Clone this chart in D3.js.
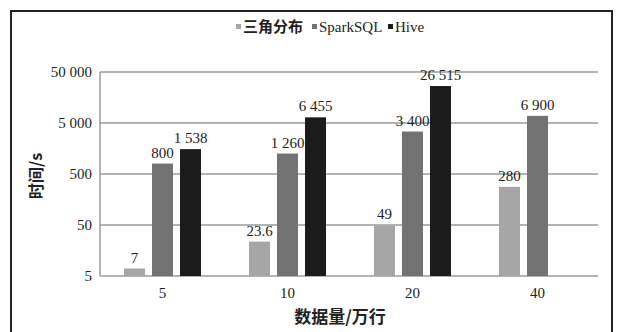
<!DOCTYPE html>
<html><head><meta charset="utf-8">
<script src="https://cdn.jsdelivr.net/npm/d3@7"></script>
<style>body{margin:0;background:#fff}svg{display:block}</style>
</head><body>
<svg id="c" width="620" height="332"></svg>
<script>
const categories = ["5", "10", "20", "40"];
const seriesNames = ["三角分布", "SparkSQL", "Hive"];
const triValues = [7, 23.6, 49, 280];
const sparkValues = [800, 1260, 3400, 6900];
const hiveValues = [1538, 6455, 26515, null];
const valueLabels = [
  ["7", "23.6", "49", "280"],
  ["800", "1 260", "3 400", "6 900"],
  ["1 538", "6 455", "26 515", null]
];
const yTicks = [5, 50, 500, 5000, 50000];
const yTickLabels = ["5", "50", "500", "5 000", "50 000"];
const colors = ["#a6a6a6", "#727272", "#1b1b1b"];
const series = [triValues, sparkValues, hiveValues];

const svg = d3.select("#c");
const serif = "Liberation Serif";
const cjk = "Noto Sans CJK SC";

// outer frame
svg.append("path").attr("d", "M11,334V11H612V334")
  .attr("fill", "none").attr("stroke", "#222").attr("stroke-width", 2);

const x = d3.scaleBand().domain(categories).range([100, 600]);
const xs = d3.scaleBand().domain(seriesNames).range([-38.5, 38.5]).paddingInner(0.25).paddingOuter(0);
const y = d3.scaleLog().domain([5, 50000]).range([276, 72]);

// gridlines
svg.append("g").selectAll("line").data(yTicks).join("line")
  .attr("x1", 100).attr("x2", 598)
  .attr("y1", d => y(d)).attr("y2", d => y(d))
  .attr("stroke", "#9a9a9a").attr("stroke-width", 1.5);

// y axis line
svg.append("line").attr("x1", 100).attr("x2", 100).attr("y1", y(50000)).attr("y2", y(5))
  .attr("stroke", "#9a9a9a").attr("stroke-width", 1.5);

// y tick labels
svg.append("g").selectAll("text").data(yTicks).join("text")
  .attr("x", 92).attr("y", d => y(d) + 5)
  .attr("text-anchor", "end").style("font-family", serif).attr("font-size", 15)
  .attr("fill", "#222").text((d, i) => yTickLabels[i]);

// bars
series.forEach((vals, si) => {
  const g = svg.append("g");
  categories.forEach((c, ci) => {
    const v = vals[ci];
    if (v == null) return;
    const cx = x(c) + x.bandwidth() / 2 + xs(seriesNames[si]);
    g.append("rect")
      .attr("x", cx).attr("width", xs.bandwidth())
      .attr("y", y(v)).attr("height", y(5) - y(v))
      .attr("fill", colors[si]);
    g.append("text")
      .attr("x", cx + xs.bandwidth() / 2).attr("y", y(v) - 6)
      .attr("text-anchor", "middle").style("font-family", serif).attr("font-size", 15)
      .attr("fill", "#222").text(valueLabels[si][ci]);
  });
});

// x tick labels
svg.append("g").selectAll("text").data(categories).join("text")
  .attr("x", d => x(d) + x.bandwidth() / 2).attr("y", 298)
  .attr("text-anchor", "middle").style("font-family", serif).attr("font-size", 15)
  .attr("fill", "#222").text(d => d);

// axis titles
svg.append("text").attr("x", 340).attr("y", 323).attr("text-anchor", "middle")
  .style("font-family", cjk).attr("font-size", 17).attr("font-weight", "bold")
  .attr("fill", "#222").text("数据量/万行");
svg.append("text").attr("transform", "translate(42,176) rotate(-90)")
  .attr("text-anchor", "middle").style("font-family", cjk).attr("font-size", 16)
  .attr("font-weight", "bold").attr("fill", "#222").text("时间/s");

// legend
const leg = svg.append("g");
const legX = [236, 312, 388];
seriesNames.forEach((n, i) => {
  leg.append("rect").attr("x", legX[i]).attr("y", 24).attr("width", 5).attr("height", 5)
    .attr("fill", colors[i]);
  leg.append("text").attr("x", legX[i] + 7).attr("y", 32)
    .style("font-family", i === 0 ? cjk : serif).attr("font-weight", i === 0 ? "bold" : "normal")
    .attr("font-size", 15).attr("fill", "#222").text(n);
});
</script>
</body></html>
